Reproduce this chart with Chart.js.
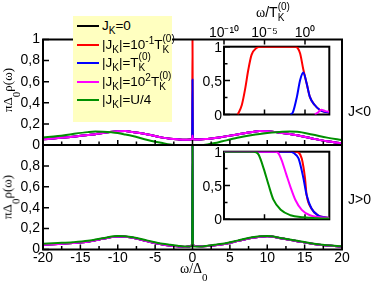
<!DOCTYPE html>
<html>
<head>
<meta charset="utf-8">
<title>spectral density</title>
<script src="https://cdn.jsdelivr.net/npm/chart.js@4.4.1/dist/chart.umd.min.js"></script>
<style>
  body { margin: 0; background: #fff; }
  #fig { position: relative; width: 374px; height: 284px; overflow: hidden; font: 14px "Liberation Sans", Arial, sans-serif; color: #000; }
  #fig canvas { position: absolute; left: 0; top: 0; }
  .txt { position: absolute; white-space: nowrap; line-height: 14px; }
  #legend .txt { font-size: 13.5px; }
  .gr { font-family: "Liberation Serif", "Times New Roman", serif; }
  .ytitle { font-size: 13px; }
  .txt sub, .txt sup { font-size: 10px; line-height: 0; }
  .txt sub { vertical-align: -4px; }
  .txt sup { vertical-align: 5px; }
  .txt sub.low { font-size: 11px; vertical-align: -8px; }
  .ss { position: relative; display: inline-block; width: 15px; height: 1px; }
  .ss b, .ss i { position: absolute; left: 0; font-style: normal; font-weight: normal; font-size: 10px; line-height: 10px; }
  .ss b { bottom: 5px; }
  .ss i { top: -3px; }
  #legend { position: absolute; left: 73px; top: 16px; width: 99px; height: 106px; background: #ffffc0; }
  #legend .key { position: absolute; left: 4px; width: 22px; height: 2px; }
</style>
</head>
<body>
<div id="fig">
  <canvas id="topPanel" width="374" height="284"></canvas>
  <canvas id="botPanel" width="374" height="284"></canvas>
  <canvas id="topInset" width="374" height="284"></canvas>
  <canvas id="botInset" width="374" height="284"></canvas>
  <div id="legend"></div>
  <div class="txt gr ytitle" style="left:7.5px; top:89.5px; transform: translate(-50%,-50%) rotate(-90deg)">πΔ<sub class="low">0</sub>ρ(ω)</div>
  <div class="txt gr ytitle" style="left:7.5px; top:197px; transform: translate(-50%,-50%) rotate(-90deg)">πΔ<sub class="low">0</sub>ρ(ω)</div>
  <div class="txt gr" style="left:180px; top:261.5px">ω/Δ<sub class="low">0</sub></div>
  <div class="txt" style="left:256px; top:5px"><span class="gr">ω</span>/T<span class="ss"><b>(0)</b><i>K</i></span></div>
  <div class="txt" style="left:348px; top:104px">J&lt;0</div>
  <div class="txt" style="left:348px; top:192px">J&gt;0</div>
</div>
<script>
// main panels, omega / Delta_0
const omega = [-20, -18, -16, -14, -13, -12, -10, -9, -8, -6, -4, -3, -2, -1, -0.05, 0, 0.05, 1, 2, 3, 4, 6, 8, 9, 10, 12, 13, 14, 16, 18, 20];

// J<0 (upper panel)
const negBlack   = [0.054, 0.066, 0.079, 0.095, 0.103, 0.113, 0.130, 0.132, 0.122, 0.100, 0.070, 0.060, 0.054, 0.050, 0.055, 0.055, 0.055, 0.052, 0.058, 0.066, 0.077, 0.100, 0.124, 0.132, 0.130, 0.114, 0.104, 0.092, 0.062, 0.035, 0.016];
const negRed     = [0.054, 0.066, 0.079, 0.095, 0.103, 0.113, 0.130, 0.132, 0.122, 0.100, 0.070, 0.060, 0.054, 0.050, 0.055, 1.000, 0.055, 0.052, 0.058, 0.066, 0.077, 0.100, 0.124, 0.132, 0.130, 0.114, 0.104, 0.092, 0.062, 0.035, 0.016];
const negBlue    = [0.054, 0.066, 0.079, 0.095, 0.103, 0.113, 0.130, 0.132, 0.122, 0.100, 0.070, 0.060, 0.054, 0.050, 0.055, 0.620, 0.055, 0.052, 0.058, 0.066, 0.077, 0.100, 0.124, 0.132, 0.130, 0.114, 0.104, 0.092, 0.062, 0.035, 0.016];
const negMagenta = [0.054, 0.066, 0.079, 0.095, 0.103, 0.113, 0.130, 0.132, 0.122, 0.100, 0.070, 0.060, 0.054, 0.050, 0.055, 0.090, 0.055, 0.052, 0.058, 0.066, 0.077, 0.100, 0.124, 0.132, 0.130, 0.114, 0.104, 0.092, 0.062, 0.035, 0.016];
const negGreen   = [0.070, 0.085, 0.105, 0.122, 0.127, 0.125, 0.113, 0.100, 0.085, 0.048, 0.018, 0.005, 0.000, 0.000, 0.000, 0.000, 0.000, 0.000, 0.005, 0.018, 0.035, 0.068, 0.095, 0.105, 0.113, 0.125, 0.127, 0.125, 0.100, 0.070, 0.048];

// J>0 (lower panel)
const posBlack   = [0.045, 0.052, 0.062, 0.075, 0.088, 0.102, 0.124, 0.123, 0.112, 0.078, 0.048, 0.038, 0.030, 0.025, 0.040, 0.085, 0.040, 0.030, 0.033, 0.040, 0.050, 0.080, 0.112, 0.123, 0.126, 0.105, 0.092, 0.080, 0.055, 0.038, 0.027];
const posRed     = [0.045, 0.052, 0.062, 0.075, 0.088, 0.102, 0.124, 0.123, 0.112, 0.078, 0.048, 0.038, 0.030, 0.025, 0.040, 1.000, 0.040, 0.030, 0.033, 0.040, 0.050, 0.080, 0.112, 0.123, 0.126, 0.105, 0.092, 0.080, 0.055, 0.038, 0.027];
const posBlue    = [0.045, 0.052, 0.062, 0.075, 0.088, 0.102, 0.124, 0.123, 0.112, 0.078, 0.048, 0.038, 0.030, 0.025, 0.040, 1.000, 0.040, 0.030, 0.033, 0.040, 0.050, 0.080, 0.112, 0.123, 0.126, 0.105, 0.092, 0.080, 0.055, 0.038, 0.027];
const posMagenta = [0.045, 0.052, 0.062, 0.075, 0.088, 0.102, 0.124, 0.123, 0.112, 0.078, 0.048, 0.038, 0.030, 0.025, 0.040, 0.085, 0.040, 0.030, 0.033, 0.040, 0.050, 0.080, 0.112, 0.123, 0.126, 0.105, 0.092, 0.080, 0.055, 0.038, 0.027];
const posGreen   = [0.055, 0.062, 0.070, 0.083, 0.095, 0.108, 0.128, 0.126, 0.117, 0.085, 0.055, 0.045, 0.036, 0.028, 0.030, 1.000, 0.030, 0.028, 0.036, 0.045, 0.055, 0.085, 0.117, 0.126, 0.128, 0.108, 0.095, 0.083, 0.058, 0.040, 0.030];

// insets, log10(omega / T_K(0))
const negRedLog  = [-8.3, -7.8, -7.4, -7.0, -6.6, -6.0, -5.5, -1.2, -0.9, -0.6, -0.2, 0.2, 0.6, 1.2, 1.8, 2.4, 3];
const negRedIn   = [0, 0.14, 0.37, 0.66, 0.88, 0.98, 1, 1, 0.98, 0.90, 0.66, 0.46, 0.26, 0.14, 0.07, 0.04, 0.03];
const negBlueLog = [-1.8, -1.5, -1.0, -0.6, -0.2, 0.2, 0.6, 1.2, 1.8, 2.4, 3];
const negBlueIn  = [0, 0.03, 0.26, 0.51, 0.62, 0.46, 0.26, 0.14, 0.07, 0.04, 0.03];
const negMagLog  = [1.2, 1.6, 2.0, 2.5, 3];
const negMagIn   = [0, 0.03, 0.07, 0.05, 0.04];

const posGreenLog = [-10, -6.4, -6.0, -5.7, -5.1, -4.5, -3.9, -3.0, -1.8, -0.2, 1.5, 3];
const posGreenIn  = [1, 1, 0.99, 0.95, 0.75, 0.51, 0.29, 0.14, 0.06, 0.03, 0.015, 0.01];
const posMagLog   = [-10, -3.7, -3.3, -2.9, -2.3, -1.8, -1.2, -0.4, 0.6, 1.8, 3];
const posMagIn    = [1, 1, 0.98, 0.88, 0.66, 0.48, 0.29, 0.14, 0.06, 0.03, 0.02];
const posBlueLog  = [-10, -1.8, -1.4, -0.8, -0.2, 0.2, 0.8, 1.6, 2.4, 3];
const posBlueIn   = [1, 1, 0.98, 0.90, 0.61, 0.36, 0.16, 0.06, 0.03, 0.02];
const posRedLog   = [-10, -1.1, -0.8, -0.4, 0, 0.2, 0.8, 1.6, 2.4, 3];
const posRedIn    = [1, 1, 0.99, 0.90, 0.61, 0.36, 0.16, 0.06, 0.03, 0.02];

// ticks
const omegaTicks = [-20, -17.5, -15, -12.5, -10, -7.5, -5, -2.5, 0, 2.5, 5, 7.5, 10, 12.5, 15, 17.5, 20];
const rhoTicks = [0, 0.2, 0.4, 0.6, 0.8, 1];
const insetYTicks = [0, 0.5, 1];
const insetYMinor = [0.25, 0.75];
const insetXTicks = [1e-10, 1e-5, 1];

// legend
const TK0 = 'T<span class="ss"><b>(0)</b><i>K</i></span>';
const seriesNames = ['J<sub>K</sub>=0', '|J<sub>K</sub>|=10<sup>-1</sup>' + TK0, '|J<sub>K</sub>|=' + TK0, '|J<sub>K</sub>|=10<sup>2</sup>' + TK0, '|J<sub>K</sub>|=U/4'];
const seriesColors = ['#000000', '#ff0000', '#0000ff', '#ff00ff', '#009000'];

Chart.defaults.font.family = '"Liberation Sans", Arial, sans-serif';
Chart.defaults.font.size = 14;
Chart.defaults.color = '#000';

const fig = document.getElementById('fig');
const legendBox = document.getElementById('legend');
seriesNames.forEach((name, i) => {
    const c = 10 + i * 18.5;
    const key = document.createElement('div');
    key.className = 'key';
    key.style.top = (c - 1) + 'px';
    key.style.background = seriesColors[i];
    legendBox.appendChild(key);
    const t = document.createElement('div');
    t.className = 'txt';
    t.style.left = '29px';
    t.style.top = (c - 7) + 'px';
    t.innerHTML = name;
    legendBox.appendChild(t);
});

// "0,8" style labels
function fmtComma(v) {
    const r = Math.round(v * 100) / 100;
    return Number.isInteger(r) ? String(r) : String(r).replace('.', ',');
}
const supChars = { '-': '\u207b', '0': '\u2070', '1': '\u00b9', '2': '\u00b2', '3': '\u00b3', '4': '\u2074', '5': '\u2075', '6': '\u2076', '7': '\u2077', '8': '\u2078', '9': '\u2079' };
function powLabel(v) {
    return '10' + String(Math.round(Math.log10(v))).split('').map(c => supChars[c]).join('');
}

function lineSet(color, xs, ys, order) {
    return {
        borderColor: color, backgroundColor: color, borderWidth: 2, pointRadius: 0, fill: false,
        borderJoinStyle: 'round', cubicInterpolationMode: 'monotone', order: order,
        data: xs.map((x, i) => ({ x: x, y: ys[i] }))
    };
}
const toW = logs => logs.map(L => Math.pow(10, L));

// frame + inward ticks
function drawFrame(chart, o) {
    const { ctx, chartArea: a, scales: { x, y } } = chart;
    ctx.save();
    ctx.strokeStyle = '#000';
    ctx.lineWidth = 1.5;
    ctx.beginPath();
    x.ticks.forEach(t => {
        const px = x.getPixelForValue(t.value);
        const len = o.xMajor(t.value) ? 5 : 3.5;
        ctx.moveTo(px, a.bottom); ctx.lineTo(px, a.bottom - len);
        if (o.topAt != null) { ctx.moveTo(px, o.topAt); ctx.lineTo(px, o.topAt + 5); }
    });
    y.ticks.forEach(t => {
        const py = y.getPixelForValue(t.value);
        ctx.moveTo(a.left, py); ctx.lineTo(a.left + 6, py);
    });
    (o.yMinor || []).forEach(v => {
        const py = y.getPixelForValue(v);
        ctx.moveTo(a.left, py); ctx.lineTo(a.left + 3.5, py);
    });
    ctx.stroke();
    ctx.lineWidth = 2;
    ctx.strokeRect(a.left, a.top, a.right - a.left, a.bottom - a.top);
    ctx.restore();
}
function framePlugin(o) {
    return {
        id: 'frame',
        beforeDraw(chart) {
            if (!o.fill) return;
            const a = chart.chartArea;
            chart.ctx.save();
            chart.ctx.fillStyle = '#fff';
            chart.ctx.fillRect(a.left, a.top, a.right - a.left, a.bottom - a.top);
            chart.ctx.restore();
        },
        beforeDatasetsDraw(chart) { if (o.under) drawFrame(chart, o); },
        afterDatasetsDraw(chart) { if (!o.under) drawFrame(chart, o); }
    };
}

const setTicks = list => s => { s.ticks = list.map(v => ({ value: v })); };
const noLine = { grid: { display: false, drawTicks: false }, border: { display: false } };

function mainPanel(id, sets, padding, showX) {
    return new Chart(document.getElementById(id), {
        type: 'line',
        data: { datasets: sets },
        options: {
            responsive: false, animation: false, events: [], devicePixelRatio: 1,
            layout: { padding: padding },
            scales: {
                x: Object.assign({
                    type: 'linear', min: -20, max: 20,
                    afterBuildTicks: setTicks(omegaTicks),
                    afterFit: s => { s.height = showX ? 34.5 : 0; },
                    ticks: { display: showX, autoSkip: false, maxRotation: 0, padding: 0, callback: v => (v % 5 === 0 ? String(v) : '') }
                }, noLine),
                y: Object.assign({
                    min: 0, max: 1,
                    afterBuildTicks: setTicks(rhoTicks),
                    afterFit: s => { s.width = 43; },
                    ticks: { autoSkip: false, padding: 3, callback: v => (showX && v === 1 ? '' : fmtComma(v)) }
                }, noLine)
            },
            plugins: { legend: { display: false }, tooltip: { enabled: false } }
        },
        plugins: [framePlugin({ xMajor: v => v % 5 === 0 })]
    });
}

function insetPanel(id, sets, padding, showX) {
    const chart = new Chart(document.getElementById(id), {
        type: 'line',
        data: { datasets: sets },
        options: {
            responsive: false, animation: false, events: [], devicePixelRatio: 1,
            layout: { padding: padding },
            scales: {
                x: Object.assign({
                    type: 'logarithmic', min: 1e-10, max: 1e3, position: showX ? 'top' : 'bottom',
                    afterBuildTicks: setTicks(insetXTicks),
                    afterFit: s => { s.height = showX ? 40 : 0; },
                    ticks: { display: showX, autoSkip: false, maxRotation: 0, padding: 5, callback: v => powLabel(v) }
                }, noLine),
                y: Object.assign({
                    type: 'linear', min: 0, max: 1,
                    afterBuildTicks: setTicks(insetYTicks),
                    afterFit: s => { s.width = 44; },
                    ticks: { display: false, autoSkip: false }
                }, noLine)
            },
            plugins: { legend: { display: false }, tooltip: { enabled: false } }
        },
        plugins: [framePlugin({ fill: true, under: true, topAt: showX ? 39.5 : null, xMajor: () => true, yMinor: insetYMinor })]
    });
    // y tick labels of the inset, placed from its own scale
    const y = chart.scales.y;
    y.ticks.forEach(t => {
        const d = document.createElement('div');
        d.className = 'txt';
        d.style.right = (374 - (y.right - 2)) + 'px';
        d.style.top = (y.getPixelForValue(t.value) - 6.85) + 'px';
        d.textContent = fmtComma(t.value);
        fig.appendChild(d);
    });
    return chart;
}

const c = seriesColors;

mainPanel('topPanel', [
    lineSet(c[0], omega, negBlack, 4),
    lineSet(c[1], omega, negRed, 3),
    lineSet(c[2], omega, negBlue, 2),
    lineSet(c[3], omega, negMagenta, 1),
    lineSet(c[4], omega, negGreen, 0)
], { left: 0, top: 39.5, right: 32, bottom: 139 }, false);

mainPanel('botPanel', [
    lineSet(c[0], omega, posBlack, 4),
    lineSet(c[1], omega, posRed, 3),
    lineSet(c[2], omega, posBlue, 2),
    lineSet(c[3], omega, posMagenta, 1),
    lineSet(c[4], omega, posGreen, 0)
], { left: 0, top: 145, right: 32, bottom: 0 }, true);

insetPanel('topInset', [
    lineSet(c[1], toW(negRedLog), negRedIn, 3),
    lineSet(c[2], toW(negBlueLog), negBlueIn, 2),
    lineSet(c[3], toW(negMagLog), negMagIn, 1)
], { left: 180, top: 6.7, right: 44.7, bottom: 169.5 }, true);

insetPanel('botInset', [
    lineSet(c[1], toW(posRedLog), posRedIn, 3),
    lineSet(c[2], toW(posBlueLog), posBlueIn, 2),
    lineSet(c[3], toW(posMagLog), posMagIn, 1),
    lineSet(c[4], toW(posGreenLog), posGreenIn, 0)
], { left: 180, top: 151.7, right: 44.7, bottom: 64.7 }, false);
</script>
</body>
</html>
